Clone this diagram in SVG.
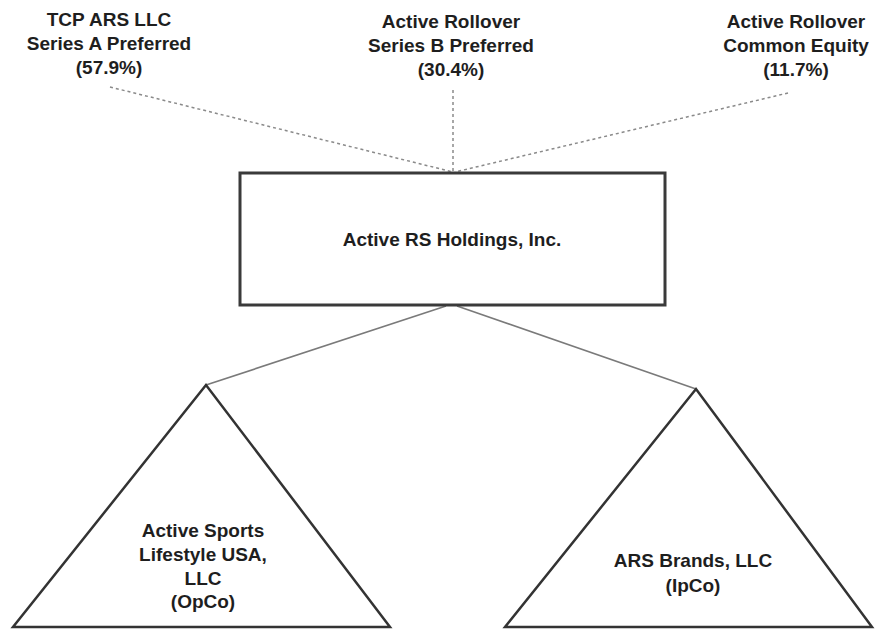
<svg xmlns="http://www.w3.org/2000/svg" width="875" height="634" viewBox="0 0 875 634">
<style>
  text { font-family: "Liberation Sans", Arial, sans-serif; font-weight: bold; font-size: 19px; fill: #1e1e1e; text-anchor: middle; }
  .box { fill: #ffffff; stroke: #3a3a3a; stroke-width: 3; }
  .tri { fill: #ffffff; stroke: #333333; stroke-width: 2.5; stroke-linejoin: miter; }
  .dash { fill: none; stroke: #8a8a8a; stroke-width: 1.5; stroke-dasharray: 3 3; }
  .solid { fill: none; stroke: #7a7a7a; stroke-width: 1.6; }
</style>
<rect width="875" height="634" fill="#ffffff"/>
<g id="connectors">
  <line class="dash" x1="110" y1="87" x2="453" y2="172"/>
  <line class="dash" x1="453" y1="90" x2="453" y2="172"/>
  <line class="dash" x1="788" y1="93" x2="455" y2="172"/>
  <line class="solid" x1="446" y1="306" x2="206" y2="385"/>
  <line class="solid" x1="457" y1="306" x2="696" y2="389"/>
</g>
<g id="tcp">
  <text x="109" y="26">TCP ARS LLC</text>
  <text x="109" y="50">Series A Preferred</text>
  <text x="109" y="74">(57.9%)</text>
</g>
<g id="seriesB">
  <text x="451" y="28">Active Rollover</text>
  <text x="451" y="52">Series B Preferred</text>
  <text x="451" y="76">(30.4%)</text>
</g>
<g id="common">
  <text x="796" y="28">Active Rollover</text>
  <text x="796" y="52">Common Equity</text>
  <text x="796" y="76">(11.7%)</text>
</g>
<g id="holdings">
  <rect class="box" x="240" y="173" width="425" height="132"/>
  <text x="452" y="246">Active RS Holdings, Inc.</text>
</g>
<g id="opco">
  <polygon class="tri" points="206,385 13,627 390,627"/>
  <text x="203" y="537">Active Sports</text>
  <text x="203" y="561">Lifestyle USA,</text>
  <text x="203" y="585">LLC</text>
  <text x="203" y="608">(OpCo)</text>
</g>
<g id="ipco">
  <polygon class="tri" points="696,389 505,627 872,627"/>
  <text x="693" y="567">ARS Brands, LLC</text>
  <text x="693" y="592">(IpCo)</text>
</g>
</svg>
